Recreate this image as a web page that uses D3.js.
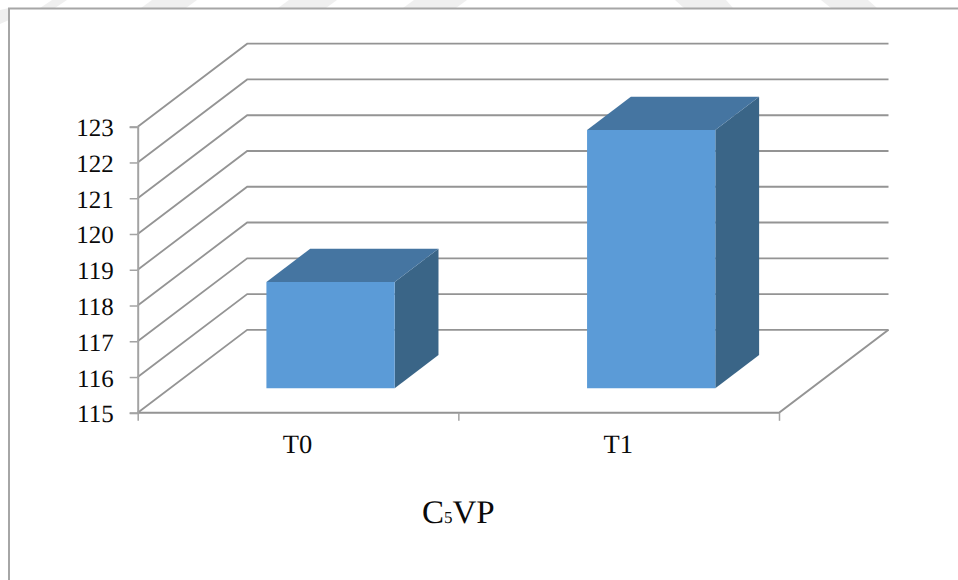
<!DOCTYPE html>
<html>
<head>
<meta charset="utf-8">
<script src="https://cdn.jsdelivr.net/npm/d3@7"></script>
<style>
  html, body { margin: 0; padding: 0; background: #fff; overflow: hidden; }
  text { font-family: "Liberation Serif", serif; fill: #0a0a0a; text-rendering: geometricPrecision; }
</style>
</head>
<body>
<div id="chart"></div>
<script>
const categories = ['T0', 'T1'];
const values = [117.97, 122.22];
const yTicks = [115, 116, 117, 118, 119, 120, 121, 122, 123];

const width = 958;
const height = 580;

const left = 137.7, right = 779, base = 412.8, topY = 126.7;
// oblique projection of the 3D box: how far the back wall sits from the front
const depthX = 109.5, depthY = -83;
const barFront = 0.297, barBack = 0.697;

const x = d3.scaleBand().domain(categories).range([left, right])
  .paddingInner(0.6).paddingOuter(0.3);
const edges = d3.scaleLinear().domain([0, categories.length]).range([left, right]);
const y = d3.scaleLinear().domain([115, 123]).range([base, topY]);

const gridColor = '#949494';
const axisColor = '#a3a3a3';

const svg = d3.select('#chart').append('svg')
  .attr('width', width).attr('height', height)
  .attr('role', 'img')
  .attr('aria-label', 'C5VP T0 T1');

// Faint watermark bands along the top edge
const bands = [
  [[52, 0], [67, 0], [55, 8], [40, 8]],
  [[152, 0], [197, 0], [186, 8], [141, 8]],
  [[289, 0], [337, 0], [326, 8], [278, 8]],
  [[414, 0], [467, 0], [456, 8], [403, 8]],
  [[675, 0], [726, 0], [733, 8], [684, 8]],
  [[821, 0], [868, 0], [877, 8], [831, 8]],
  [[0, 10], [9, 8], [9, 20], [0, 24]]
];
svg.append('g').selectAll('polygon').data(bands).join('polygon')
  .attr('points', d => d.join(' '))
  .attr('fill', '#efefef');

// Chart frame, runs off the right and bottom of the crop
svg.append('path')
  .attr('d', `M9,${height}V8.5H${width}`)
  .attr('fill', 'none')
  .attr('stroke', '#a6a6a6')
  .attr('stroke-width', 2);

// Side wall + back wall gridlines
const lineGen = d3.line();
svg.append('g').selectAll('path').data(yTicks).join('path')
  .attr('d', v => lineGen([
    [left, y(v)],
    [left + depthX, y(v) + depthY],
    [right + depthX, y(v) + depthY]
  ]))
  .attr('fill', 'none')
  .attr('stroke', gridColor)
  .attr('stroke-width', 1.8);

// Floor
svg.append('path')
  .attr('d', lineGen([
    [left, y(115)],
    [right, y(115)],
    [right + depthX, y(115) + depthY]
  ]))
  .attr('fill', 'none')
  .attr('stroke', gridColor)
  .attr('stroke-width', 2);

// Y axis
const yAxis = svg.append('g')
  .attr('transform', `translate(${left},0)`)
  .call(d3.axisLeft(y).tickValues(yTicks).tickSize(8).tickPadding(16).tickFormat(d3.format('d')));
yAxis.selectAll('path, line').attr('stroke', axisColor);
yAxis.select('.domain').attr('stroke-width', 2);
yAxis.selectAll('line').attr('stroke-width', 1.5);
yAxis.selectAll('text').attr('font-size', '25px').attr('dy', '0.36em');

// X axis: ticks on the category edges, labels in the middle
const xTicks = svg.append('g')
  .attr('transform', `translate(0,${base})`)
  .call(d3.axisBottom(edges).tickValues(d3.range(categories.length + 1)).tickSize(8).tickFormat(''));
xTicks.select('.domain').remove();
xTicks.selectAll('line').attr('stroke', axisColor).attr('stroke-width', 1.5);

const labelShift = -0.5;
svg.append('g').selectAll('text').data(categories).join('text')
  .attr('x', d => x(d) + x.bandwidth() / 2 + labelShift)
  .attr('y', 453)
  .attr('text-anchor', 'middle')
  .attr('font-size', '26.5px')
  .text(d => d);

// Bars as three faces of a box
function pt(px, v, depth) {
  return [px + depthX * depth, y(v) + depthY * depth];
}
const bars = svg.append('g').selectAll('g')
  .data(categories.map((c, i) => ({ c, v: values[i] })))
  .join('g');

// side
bars.append('polygon')
  .attr('points', d => {
    const r = x(d.c) + x.bandwidth();
    return [pt(r, d.v, barFront), pt(r, d.v, barBack), pt(r, 115, barBack), pt(r, 115, barFront)].join(' ');
  })
  .attr('fill', '#3a6587');

// top
bars.append('polygon')
  .attr('points', d => {
    const l = x(d.c), r = l + x.bandwidth();
    return [pt(l, d.v, barFront), pt(l, d.v, barBack), pt(r, d.v, barBack), pt(r, d.v, barFront)].join(' ');
  })
  .attr('fill', '#4575a1');

// front
bars.append('polygon')
  .attr('points', d => {
    const l = x(d.c), r = l + x.bandwidth();
    return [pt(l, d.v, barFront), pt(r, d.v, barFront), pt(r, 115, barFront), pt(l, 115, barFront)].join(' ');
  })
  .attr('fill', '#5b9bd7');

// Axis title, the 5 sits on the baseline in a smaller size
const title = svg.append('text')
  .attr('x', 422)
  .attr('y', 523)
  .attr('font-size', '33px');
title.append('tspan').text('C');
title.append('tspan').attr('font-size', '17px').text('5');
title.append('tspan').text('VP');
</script>
</body>
</html>
